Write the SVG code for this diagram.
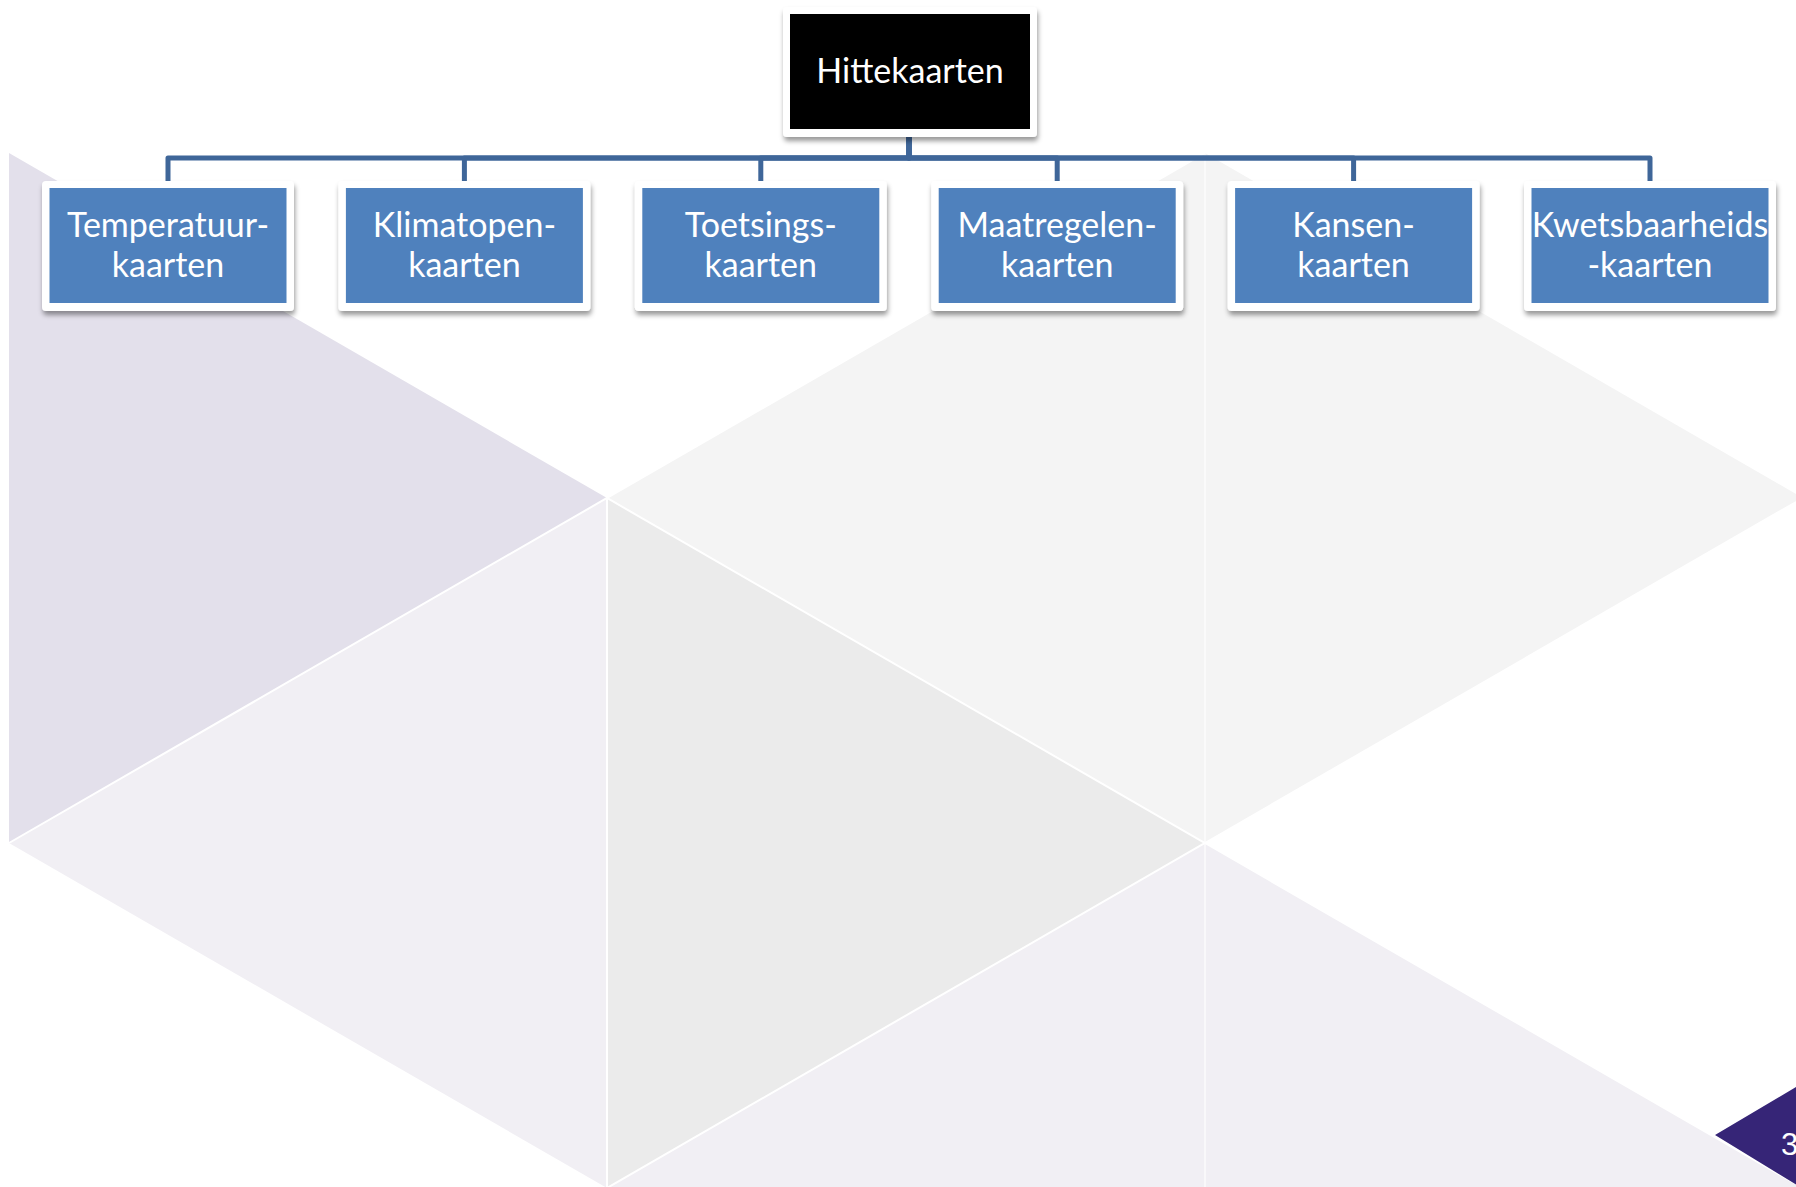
<svg xmlns="http://www.w3.org/2000/svg" width="1796" height="1187" viewBox="0 0 1796 1187">
  <style>
    .lbl { font-family: Lato, "Open Sans", sans-serif; font-size: 34px; fill: #ffffff; text-anchor: middle; }
    .frame { fill: #ffffff; }
    .child { fill: #4f81bd; }
    .root { fill: #000000; }
    .conn { fill: none; stroke: #3f6699; stroke-width: 5; stroke-linejoin: round; }
    .sep { stroke: #ffffff; stroke-width: 2; fill: none; }
  </style>
  <defs>
    <filter id="shadow" x="-10%" y="-10%" width="120%" height="130%">
      <feDropShadow dx="1" dy="4" stdDeviation="2.5" flood-color="#000000" flood-opacity="0.4"/>
    </filter>
  </defs>

  <rect x="0" y="0" width="1796" height="1187" fill="#ffffff"/>

  <g id="background">
    <polygon points="9,153 607,498 9,843" fill="#e3e0eb"/>
    <polygon points="9,843 607,498 607,1188" fill="#f1eff4"/>
    <polygon points="607,498 1205,153 1205,843" fill="#f4f4f4"/>
    <polygon points="1205,153 1803,498 1205,843" fill="#f4f4f4"/>
    <polygon points="607,498 1205,843 607,1188" fill="#ebebeb"/>
    <polygon points="1205,843 607,1188 1205,1533" fill="#f1eff4"/>
    <polygon points="1205,843 1803,1188 1205,1533" fill="#f1eff4"/>
    <path class="sep" d="M9,843 L607,498 L1205,843 L1803,498 M607,498 V1188 M607,1188 L1205,843 L1803,1188 M607,498 L1205,153"/>
    <line x1="1205" y1="153" x2="1205" y2="1187" stroke="#ffffff" stroke-width="1.5" opacity="0.7"/>
    <polygon points="1715,1135 1796,1087 1796,1187 1800,1187" fill="#362577"/>
    <text x="1781" y="1155" font-family="Liberation Sans, Arial, sans-serif" font-size="31" fill="#ffffff">3</text>
  </g>

  <g id="connectors">
    <path class="conn" d="M909,137 V158 H168 V181"/>
    <path class="conn" d="M909,137 V158 H464.4 V181"/>
    <path class="conn" d="M909,137 V158 H760.8 V181"/>
    <path class="conn" d="M909,137 V158 H1057.2 V181"/>
    <path class="conn" d="M909,137 V158 H1353.6 V181"/>
    <path class="conn" d="M909,137 V158 H1650 V181"/>
  </g>

  <g id="node-hittekaarten">
    <rect class="frame" x="783" y="7" width="254" height="130" rx="4" filter="url(#shadow)"/>
    <rect class="root" x="790" y="14" width="240" height="115"/>
    <text class="lbl" x="910" y="83">Hittekaarten</text>
  </g>

  <g id="node-temperatuurkaarten">
    <rect class="frame" x="42" y="181" width="252" height="130" rx="4" filter="url(#shadow)"/>
    <rect class="child" x="49.5" y="188" width="237" height="115"/>
    <text class="lbl" x="168" y="237">Temperatuur-</text>
    <text class="lbl" x="168" y="277">kaarten</text>
  </g>

  <g id="node-klimatopenkaarten">
    <rect class="frame" x="338.4" y="181" width="252" height="130" rx="4" filter="url(#shadow)"/>
    <rect class="child" x="345.9" y="188" width="237" height="115"/>
    <text class="lbl" x="464.4" y="237">Klimatopen-</text>
    <text class="lbl" x="464.4" y="277">kaarten</text>
  </g>

  <g id="node-toetsingskaarten">
    <rect class="frame" x="634.8" y="181" width="252" height="130" rx="4" filter="url(#shadow)"/>
    <rect class="child" x="642.3" y="188" width="237" height="115"/>
    <text class="lbl" x="760.8" y="237">Toetsings-</text>
    <text class="lbl" x="760.8" y="277">kaarten</text>
  </g>

  <g id="node-maatregelenkaarten">
    <rect class="frame" x="931.2" y="181" width="252" height="130" rx="4" filter="url(#shadow)"/>
    <rect class="child" x="938.7" y="188" width="237" height="115"/>
    <text class="lbl" x="1057.2" y="237">Maatregelen-</text>
    <text class="lbl" x="1057.2" y="277">kaarten</text>
  </g>

  <g id="node-kansenkaarten">
    <rect class="frame" x="1227.6" y="181" width="252" height="130" rx="4" filter="url(#shadow)"/>
    <rect class="child" x="1235.1" y="188" width="237" height="115"/>
    <text class="lbl" x="1353.6" y="237">Kansen-</text>
    <text class="lbl" x="1353.6" y="277">kaarten</text>
  </g>

  <g id="node-kwetsbaarheidskaarten">
    <rect class="frame" x="1524" y="181" width="252" height="130" rx="4" filter="url(#shadow)"/>
    <rect class="child" x="1531.5" y="188" width="237" height="115"/>
    <text class="lbl" x="1650" y="237">Kwetsbaarheids</text>
    <text class="lbl" x="1650" y="277">-kaarten</text>
  </g>
</svg>
